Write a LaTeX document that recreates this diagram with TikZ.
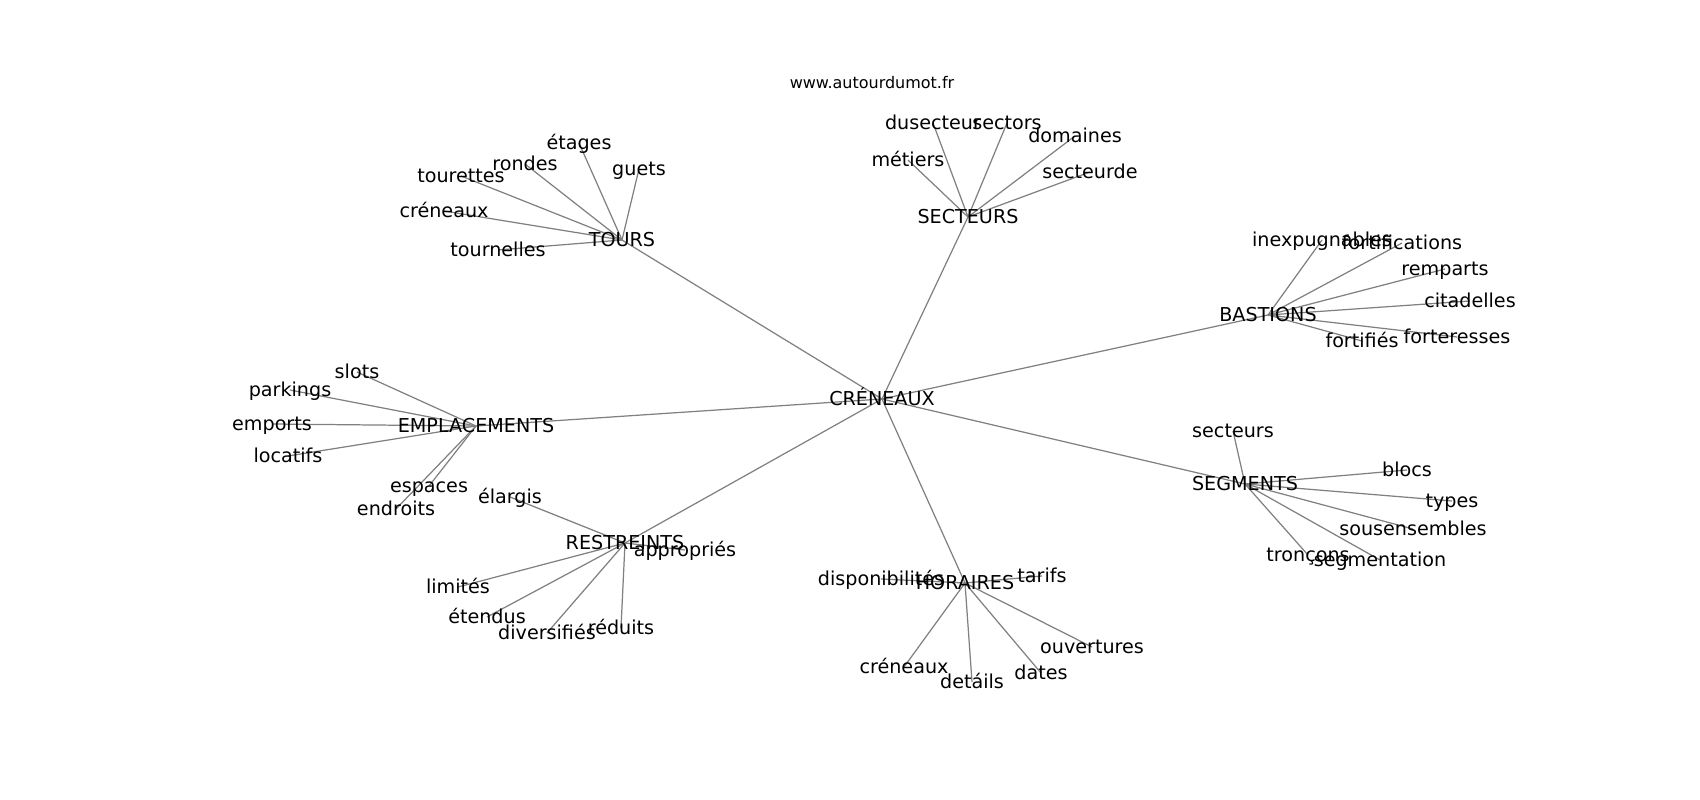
\documentclass[tikz,border=0pt]{standalone}
\usepackage{fontspec}
\setmainfont{DejaVu Sans}
\usepackage{tikz}
\usetikzlibrary{backgrounds}
\tikzset{
	word/.style={inner sep=0pt, text height=0.73em, text depth=0pt, font=\fontsize{10.9}{13}\selectfont},
	site/.style={inner sep=0pt, text height=0.73em, text depth=0pt, font=\fontsize{9.1}{11}\selectfont},
	link/.style={draw=gray, line width=0.7pt}
}

\begin{document}
\begin{tikzpicture}
\useasboundingbox (0,0) rectangle (34,-16);
\node (site) [site] at (17.44,-1.64) {www.autourdumot.fr};
% hubs
\node (cren) [word] at (17.64,-7.98) {CRÉNEAUX};
\node (tours) [word] at (12.44,-4.80) {TOURS};
\node (sect) [word] at (19.36,-4.34) {SECTEURS};
\node (bast) [word] at (25.36,-6.30) {BASTIONS};
\node (empl) [word] at (9.52,-8.52) {EMPLACEMENTS};
\node (segm) [word] at (24.90,-9.68) {SEGMENTS};
\node (restr) [word] at (12.50,-10.86) {RESTREINTS};
\node (hor) [word] at (19.30,-11.66) {HORAIRES};
% tours
\node (etages) [word] at (11.58,-2.86) {étages};
\node (rondes) [word] at (10.50,-3.28) {rondes};
\node (guets) [word] at (12.78,-3.38) {guets};
\node (tourettes) [word] at (9.22,-3.52) {tourettes};
\node (crena) [word] at (8.88,-4.22) {créneaux};
\node (tournelles) [word] at (9.96,-5.00) {tournelles};
% secteurs
\node (dusect) [word] at (18.66,-2.46) {dusecteur};
\node (sectors) [word] at (20.14,-2.46) {sectors};
\node (domaines) [word] at (21.50,-2.72) {domaines};
\node (metiers) [word] at (18.16,-3.20) {métiers};
\node (sectde) [word] at (21.80,-3.44) {secteurde};
% bastions
\node (inexp) [word] at (26.44,-4.80) {inexpugnables};
\node (fortif) [word] at (28.04,-4.86) {fortifications};
\node (remparts) [word] at (28.90,-5.38) {remparts};
\node (citad) [word] at (29.40,-6.02) {citadelles};
\node (forter) [word] at (29.14,-6.74) {forteresses};
\node (fortifies) [word] at (27.24,-6.82) {fortifiés};
% emplacements
\node (slots) [word] at (7.14,-7.44) {slots};
\node (parkings) [word] at (5.80,-7.80) {parkings};
\node (emports) [word] at (5.44,-8.48) {emports};
\node (locatifs) [word] at (5.76,-9.12) {locatifs};
\node (espaces) [word] at (8.58,-9.72) {espaces};
\node (endroits) [word] at (7.92,-10.18) {endroits};
% segments
\node (sectl) [word] at (24.66,-8.62) {secteurs};
\node (blocs) [word] at (28.14,-9.40) {blocs};
\node (types) [word] at (29.04,-10.02) {types};
\node (sousens) [word] at (28.26,-10.58) {sousensembles};
\node (troncons) [word] at (26.16,-11.10) {tronçons};
\node (segmt) [word] at (27.60,-11.20) {segmentation};
% restreints
\node (elargis) [word] at (10.20,-9.94) {élargis};
\node (approp) [word] at (13.70,-11.00) {appropriés};
\node (limites) [word] at (9.16,-11.74) {limités};
\node (etendus) [word] at (9.74,-12.34) {étendus};
\node (divers) [word] at (10.94,-12.66) {diversifiés};
\node (reduits) [word] at (12.42,-12.56) {réduits};
% horaires
\node (dispo) [word] at (17.62,-11.58) {disponibilités};
\node (tarifs) [word] at (20.84,-11.52) {tarifs};
\node (ouvert) [word] at (21.84,-12.94) {ouvertures};
\node (crenb) [word] at (18.08,-13.34) {créneaux};
\node (details) [word] at (19.44,-13.64) {detáils};
\node (dates) [word] at (20.82,-13.46) {dates};
\begin{scope}[on background layer]
\draw[link] (cren.center) -- (tours.center); \draw[link] (cren.center) -- (sect.center);
\draw[link] (cren.center) -- (bast.center); \draw[link] (cren.center) -- (empl.center);
\draw[link] (cren.center) -- (segm.center); \draw[link] (cren.center) -- (restr.center);
\draw[link] (cren.center) -- (hor.center);
\draw[link] (tours.center) -- (etages.center); \draw[link] (tours.center) -- (rondes.center);
\draw[link] (tours.center) -- (guets.center); \draw[link] (tours.center) -- (tourettes.center);
\draw[link] (tours.center) -- (crena.center); \draw[link] (tours.center) -- (tournelles.center);
\draw[link] (sect.center) -- (dusect.center); \draw[link] (sect.center) -- (sectors.center);
\draw[link] (sect.center) -- (domaines.center); \draw[link] (sect.center) -- (metiers.center);
\draw[link] (sect.center) -- (sectde.center);
\draw[link] (bast.center) -- (inexp.center); \draw[link] (bast.center) -- (fortif.center);
\draw[link] (bast.center) -- (remparts.center); \draw[link] (bast.center) -- (citad.center);
\draw[link] (bast.center) -- (forter.center); \draw[link] (bast.center) -- (fortifies.center);
\draw[link] (empl.center) -- (slots.center); \draw[link] (empl.center) -- (parkings.center);
\draw[link] (empl.center) -- (emports.center); \draw[link] (empl.center) -- (locatifs.center);
\draw[link] (empl.center) -- (espaces.center); \draw[link] (empl.center) -- (endroits.center);
\draw[link] (segm.center) -- (sectl.center); \draw[link] (segm.center) -- (blocs.center);
\draw[link] (segm.center) -- (types.center); \draw[link] (segm.center) -- (sousens.center);
\draw[link] (segm.center) -- (troncons.center); \draw[link] (segm.center) -- (segmt.center);
\draw[link] (restr.center) -- (elargis.center); \draw[link] (restr.center) -- (approp.center);
\draw[link] (restr.center) -- (limites.center); \draw[link] (restr.center) -- (etendus.center);
\draw[link] (restr.center) -- (divers.center); \draw[link] (restr.center) -- (reduits.center);
\draw[link] (hor.center) -- (dispo.center); \draw[link] (hor.center) -- (tarifs.center);
\draw[link] (hor.center) -- (ouvert.center); \draw[link] (hor.center) -- (crenb.center);
\draw[link] (hor.center) -- (details.center); \draw[link] (hor.center) -- (dates.center);
\end{scope}
\end{tikzpicture}
\end{document}
